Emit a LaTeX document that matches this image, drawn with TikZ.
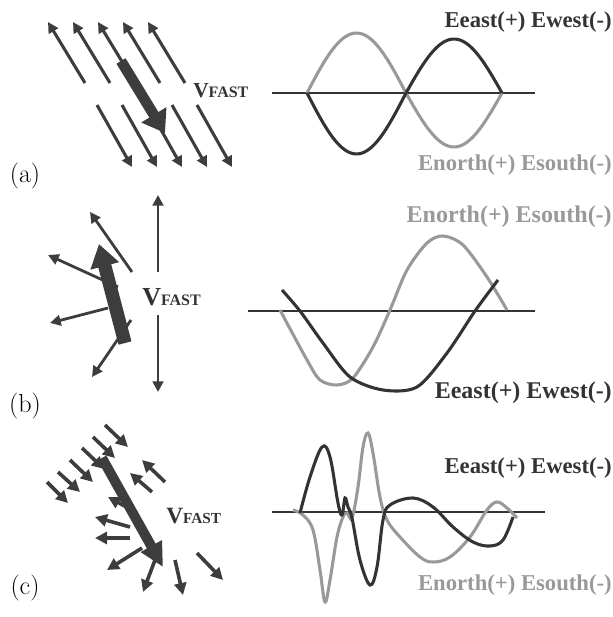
\documentclass[tikz,border=0pt]{standalone}
\usepackage{fontspec}
\usepackage{tikz}
\usetikzlibrary{arrows.meta}
\newfontfamily\tnr{Liberation Serif}
\definecolor{arrowc}{gray}{0.24}
\definecolor{darkc}{gray}{0.2}
\definecolor{lightc}{gray}{0.6}

\begin{document}
\begin{tikzpicture}[
      x=0.75pt, y=-0.75pt,
      fld/.style={draw=arrowc, line width=2.3pt,
                  -{Triangle[length=8pt,width=8pt]}},
      fast/.style={draw=arrowc, line width=8pt,
                   -{Triangle[length=16pt,width=21pt]}},
      axis/.style={draw=darkc, line width=0.8pt},
      ewave/.style={draw=darkc, line width=2.3pt},
      nwave/.style={draw=lightc, line width=2.3pt},
      elbl/.style={font=\tnr\bfseries\fontsize{17}{18}\selectfont,
                   text=darkc, inner sep=0pt, anchor=base east},
      nlbl/.style={elbl, text=lightc},
      tag/.style={font=\fontsize{19.5}{20}\selectfont, inner sep=0pt}
    ]
    \useasboundingbox (0,0) rectangle (613,617);

    % (a) uniform field
    \foreach \i in {0,...,4} {
      \draw[fld] (85+25*\i,83) -- (48+25*\i,22);
      \draw[fld] (97+25*\i,105) -- (132+25*\i,167);
    }
    \draw[fast] (121,61) -- (165,133);
    \node[inner sep=0pt, anchor=base west, text=darkc] (va) at (193,98)
          {\tnr\bfseries{\fontsize{16}{16}\selectfont V}{\fontsize{12}{12}\selectfont FAST}};
    \node[tag] (ta) at (25,176) {(a)};

    \draw[axis] (272,93) -- (535,93);
    \draw[nwave] plot[domain=307:406, samples=40] (\x, {93-60*sin((\x-307)/99*180)})
                 -- plot[domain=406:502, samples=40] (\x, {93+54*sin((\x-406)/96*180)});
    \draw[ewave] plot[domain=307:406, samples=40] (\x, {93+61*sin((\x-307)/99*180)})
                 -- plot[domain=406:502, samples=40] (\x, {93-54*sin((\x-406)/96*180)});
    \node[elbl] (ea) at (612,28) {Eeast(+) Ewest(-)};
    \node[nlbl] (na) at (612,170) {Enorth(+) Esouth(-)};

    % (b)
    \begin{scope}[fld/.append style={line width=2.1pt}]
      \draw[fld] (132,272) -- (90,212);
      \draw[fld] (118,287) -- (48,255);
      \draw[fld] (108,308) -- (50,323);
      \draw[fld] (131,320) -- (92,377);
      \draw[fld] (158,272) -- (158,195);
      \draw[fld] (158,315) -- (158,392);
    \end{scope}
    \draw[fast, line width=10pt, -{Triangle[length=17pt,width=21pt]}] (125,343) -- (99,244);
    \node[inner sep=0pt, anchor=base west, text=darkc] (vb) at (142,305)
          {\tnr\bfseries{\fontsize{19.5}{20}\selectfont V}{\fontsize{12}{12}\selectfont FAST}};
    \node[tag] (tb) at (25,406) {(b)};

    \draw[axis] (248,311) -- (535,311);
    \draw[nwave] plot[smooth] coordinates {(280,310) (307,360) (320,380) (337,385)
        (353,378) (373,347) (390,310) (407,270) (427,243) (443,236) (463,245)
        (487,277) (507,310)};
    \draw[ewave] plot[smooth] coordinates {(282,290) (300,311) (323,343) (350,377)
        (383,390) (417,387) (447,353) (475,311) (498,280)};
    \node[nlbl, font=\tnr\bfseries\fontsize{18}{19}\selectfont] (nb) at (612,222) {Enorth(+) Esouth(-)};
    \node[elbl, font=\tnr\bfseries\fontsize{18}{19}\selectfont] (eb) at (612,398) {Eeast(+) Ewest(-)};

    % (c) scattered field
    \begin{scope}[fld/.append style={line width=2.7pt,
                  -{Triangle[length=9pt,width=9pt]}}]
      \foreach \tx/\ty/\hx/\hy in {105/425/128/447, 93/437/115/458, 82/448/104/469,
          70/460/93/482, 58/472/80/492, 47/482/68/503,
          165/482/142/460, 152/492/130/473, 132/510/108/497, 130/527/95/517,
          130/538/95/538, 142/548/107/570, 155/560/143/592, 175/560/183/595,
          197/553/223/580}
        \draw[fld] (\tx,\ty) -- (\hx,\hy);
    \end{scope}
    \draw[fast, line width=7.5pt, -{Triangle[length=18pt,width=17pt]}] (102,458) -- (163,567);
    \node[inner sep=0pt, anchor=base west, text=darkc] (vc) at (166,523)
          {\tnr\bfseries{\fontsize{17.5}{18}\selectfont V}{\fontsize{11.5}{12}\selectfont FAST}};
    \node[tag] (tc) at (25,588) {(c)};

    \draw[axis] (272,512) -- (545,512);
    \draw[nwave] plot[smooth, tension=0.6] coordinates {(293,510) (303,515) (313,530)
        (320,570) (325,602) (330,580) (337,537) (343,517) (347,513) (352,518)
        (358,487) (363,447) (368,433) (373,453) (380,497) (387,520) (400,537)
        (420,557) (433,562) (450,557) (470,537) (487,510) (497,502) (507,508)
        (517,518)};
    \draw[ewave] plot[smooth, tension=0.6] coordinates {(300,513) (310,477) (322,447)
        (330,457) (338,503) (342,515) (345,498) (348,507) (352,518) (360,560)
        (370,585) (377,567) (383,520) (390,505) (413,498) (433,507) (453,527)
        (473,542) (490,546) (503,540) (513,517)};
    \node[elbl] (ec) at (612,473) {Eeast(+) Ewest(-)};
    \node[nlbl] (nc) at (612,590) {Enorth(+) Esouth(-)};
  \end{tikzpicture}
\end{document}
